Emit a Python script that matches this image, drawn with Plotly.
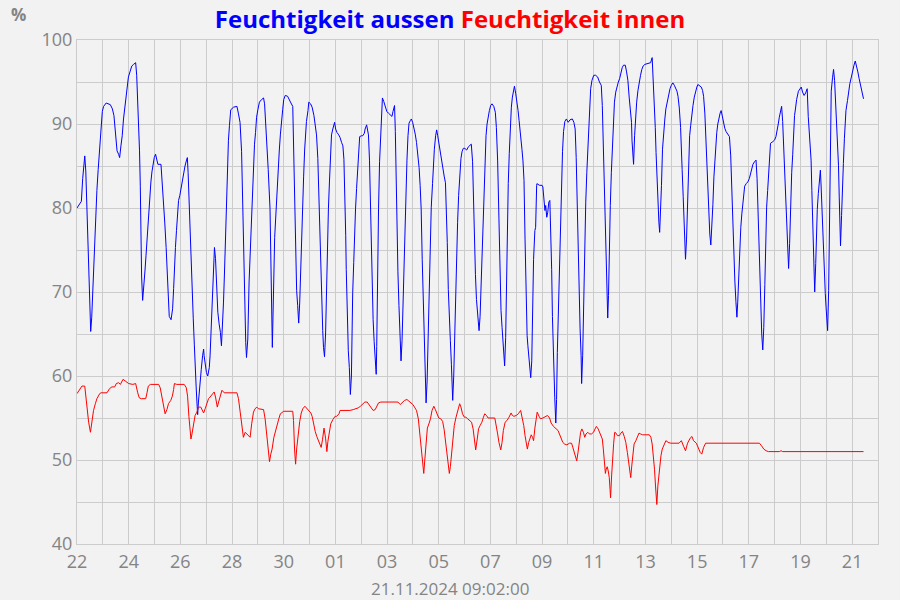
import pandas as pd
import plotly.graph_objects as go

START = "2024-10-22"
END = "2024-11-22"
STAMP = "21.11.2024 09:02:00"

# days since 22.10.2024 00:00 and relative humidity (%)
aussen_days = [
 0,0.17,0.22,0.26,0.30,0.34,0.37,0.39,0.43,0.46,0.50,0.53,0.57,0.61,0.64,0.68,0.73,0.77,0.82,0.86,0.90,0.93,0.98,1.03,1.13,1.29,1.37,1.43,1.47,1.51,1.55,1.61,1.65,1.70,1.75,1.80,1.87,1.93,1.99,2.06,2.12,2.19,2.27,2.31,2.35,2.38,2.42,2.45,2.47,2.50,2.54,2.58,2.63,2.67,2.71,2.74,2.78,2.82,2.86,2.90,2.94,2.99,3.04,3.09,3.13,3.25,3.30,3.35,3.40,3.45,3.49,3.53,3.57,3.64,3.70,3.74,3.77,3.81,3.85,3.89,3.93,3.98,4.03,4.07,4.12,4.18,4.23,4.27,4.30,4.34,4.38,4.42,4.46,4.50,4.54,4.57,4.61,4.65,4.67,4.70,4.75,4.81,4.86,4.90,4.92,4.96,5.01,5.06,5.12,5.15,5.19,5.23,5.28,5.32,5.36,5.41,5.45,5.50,5.55,5.59,5.63,5.67,5.71,5.75,5.79,5.82,5.86,5.90,5.95,6.06,6.19,6.25,6.31,6.37,6.41,6.44,6.47,6.51,6.53,6.56,6.61,6.66,6.70,6.75,6.79,6.83,6.87,6.91,6.95,7.00,7.06,7.14,7.22,7.26,7.29,7.35,7.40,7.47,7.54,7.56,
 7.65,7.71,7.74,7.78,7.83,7.87,7.91,7.96,8.00,8.06,8.15,8.23,8.28,8.35,8.37,8.40,8.44,8.46,8.50,8.54,8.58,8.62,8.65,8.69,8.73,8.77,8.81,8.85,8.88,8.94,8.97,9.04,9.10,9.17,9.22,9.27,9.32,9.36,9.40,9.44,9.47,9.51,9.54,9.58,9.62,9.65,9.69,9.73,9.77,9.81,9.85,9.90,9.94,9.97,10.01,10.06,10.13,10.18,10.24,10.29,10.33,10.37,10.40,10.42,10.45,10.47,10.50,10.54,10.58,10.62,10.64,10.67,10.71,10.74,10.78,10.82,10.86,10.90,10.94,11.01,11.06,11.12,11.15,11.21,11.24,11.28,11.32,11.36,11.40,11.42,11.46,11.50,11.54,11.58,11.60,11.63,11.67,11.71,11.76,11.79,11.82,11.87,11.94,11.99,12.05,12.13,12.19,12.23,12.29,12.32,12.35,12.38,12.42,12.46,12.50,12.54,12.58,12.62,12.65,12.69,12.73,12.77,12.81,12.85,12.90,12.94,12.99,13.04,13.09,13.14,13.19,13.24,13.28,13.32,13.36,13.40,13.44,13.46,13.49,13.51,13.55,13.59,13.63,13.67,13.71,13.76,13.79,13.83,13.88,13.92,13.96,14.00,14.05,14.10,14.15,14.21,14.26,14.29,14.33,14.37,14.41,14.45,14.49,14.53,14.54,14.58,14.62,14.65,14.69,14.73,14.77,14.82,14.86,14.90,14.95,15.01,15.08,15.15,15.26,
 15.31,15.34,15.38,15.42,15.46,15.50,15.52,15.56,15.60,15.64,15.68,15.72,15.76,15.79,15.83,15.87,15.91,15.96,16.01,16.06,16.13,16.19,16.23,16.28,16.33,16.37,16.41,16.45,16.49,16.53,16.55,16.59,16.62,16.66,16.69,16.73,16.77,16.81,16.85,16.90,16.93,16.98,17.02,17.07,17.11,17.14,17.18,17.22,17.26,17.30,17.34,17.38,17.42,17.45,17.49,17.53,17.56,17.60,17.63,17.67,17.72,17.75,17.79,17.80,17.90,18.00,18.03,18.07,18.11,18.14,18.18,18.22,18.26,18.30,18.33,18.37,18.40,18.43,18.46,18.49,18.53,18.56,18.59,18.63,18.67,18.71,18.75,18.79,18.83,18.88,18.94,19.01,19.08,19.17,19.23,19.28,19.32,19.36,19.39,19.43,19.47,19.51,19.53,19.57,19.61,19.65,19.69,19.73,19.77,19.81,19.84,19.88,19.93,20.00,20.07,20.15,20.22,20.29,20.33,20.37,20.41,20.45,20.49,20.51,20.54,20.57,20.60,20.64,20.68,20.72,20.76,20.80,20.85,20.90,20.95,21.00,21.05,21.10,21.15,21.22,21.27,21.32,21.37,21.42,21.46,21.48,21.51,21.54,21.58,21.62,21.66,21.71,21.75,21.81,21.86,21.91,21.98,22.08,22.20,22.26,22.30,22.34,22.38,22.41,22.45,22.49,22.52,22.55,22.58,22.62,22.66,22.71,22.75,22.79,22.84,22.89,22.95,
 23.00,23.06,23.12,23.17,23.22,23.26,23.31,23.36,23.40,23.42,23.46,23.50,23.53,23.55,23.59,23.63,23.67,23.71,23.75,23.79,23.84,23.89,23.94,23.99,24.03,24.09,24.16,24.21,24.25,24.30,24.35,24.39,24.43,24.45,24.49,24.53,24.57,24.61,24.65,24.69,24.72,24.76,24.80,24.84,24.89,24.93,24.97,25.02,25.07,25.12,25.19,25.25,25.30,25.34,25.38,25.42,25.46,25.50,25.54,25.57,25.61,25.65,25.69,25.73,25.77,25.81,25.84,25.90,25.96,26.02,26.06,26.11,26.16,26.22,26.28,26.32,26.36,26.40,26.44,26.47,26.50,26.54,26.58,26.62,26.65,26.69,26.73,26.77,26.80,26.84,26.93,27.00,27.05,27.11,27.14,27.18,27.22,27.27,27.31,27.35,27.39,27.43,27.47,27.50,27.54,27.58,27.62,27.66,27.70,27.74,27.77,27.81,27.85,27.92,27.97,28.03,28.08,28.14,28.20,28.26,28.30,28.35,28.41,28.44,28.48,28.52,28.55,28.59,28.62,28.65,28.69,28.73,28.77,28.80,28.84,28.88,28.92,28.96,28.99,29.01,29.05,29.09,29.12,29.15,29.19,29.24,29.28,29.32,29.37,29.41,29.45,29.47,29.50,29.52,29.55,29.59,29.62,29.66,29.70,29.73,29.76,29.82,29.86,29.91,29.97,30.02,30.07,30.12,30.17,30.22,30.27,30.34,30.44]
aussen_vals = [
 80.0,80.8,83.5,85.2,86.2,84.4,81.1,77.7,74.2,70.7,67.1,65.3,67.0,70.4,72.9,75.9,79.1,82.1,84.6,86.6,88.8,90.2,91.5,92.1,92.5,92.3,91.8,91.0,89.2,87.8,86.8,86.4,86.0,87.4,88.6,90.6,92.6,94.2,95.6,96.3,96.9,97.1,97.3,95.8,92.8,89.8,86.8,82.6,77.1,71.9,69.0,71.1,72.5,74.3,76.3,78.5,80.1,81.5,83.1,84.3,85.3,86.0,86.4,85.8,85.2,85.2,82.3,80.1,78.1,75.3,72.1,68.8,67.1,66.7,68.0,70.4,73.1,75.3,77.3,79.5,80.9,81.5,82.5,83.3,84.2,85.0,85.6,86.0,84.2,80.3,76.6,73.1,70.0,66.8,63.8,61.0,58.8,56.4,55.4,56.9,59.2,60.8,62.4,63.2,62.4,61.4,60.4,60.0,61.0,62.4,65.0,69.2,72.7,75.3,74.0,69.2,67.6,66.2,65.2,63.6,65.6,68.8,72.5,76.5,80.9,85.0,88.0,89.8,91.7,92.0,92.1,91.2,90.2,86.7,80.5,74.3,69.8,66.8,64.0,62.2,64.4,71.2,74.7,78.3,81.9,85.3,87.6,89.0,90.8,91.7,92.6,92.9,93.1,92.4,91.0,87.8,84.6,79.9,66.0,63.4,
 76.5,80.3,82.5,84.7,86.9,88.7,90.4,91.7,92.9,93.4,93.3,92.9,92.5,92.1,89.0,83.1,77.1,72.9,70.2,68.4,66.3,68.8,72.3,76.5,80.3,83.7,86.9,89.2,90.3,91.6,92.6,92.4,92.0,91.0,89.9,88.7,85.9,80.9,75.7,70.8,67.4,65.4,63.4,62.3,65.0,70.2,75.3,79.9,83.1,86.0,88.7,89.4,89.8,90.2,89.4,89.0,88.7,88.4,87.8,87.4,85.8,81.5,76.7,72.7,69.5,65.1,63.0,61.0,57.8,60.0,64.5,69.9,73.5,76.9,79.9,82.3,84.7,86.7,88.5,88.6,88.6,88.9,89.4,89.9,89.4,88.7,85.7,79.9,73.5,69.5,66.7,64.1,61.5,60.2,63.5,71.9,79.9,85.5,89.1,91.1,93.1,92.7,92.1,91.5,91.3,91.1,90.9,91.5,92.2,89.1,83.5,77.5,72.4,68.4,64.8,61.8,64.2,68.8,73.5,78.3,82.1,85.7,88.6,90.1,90.4,90.6,90.2,89.6,88.8,87.8,86.6,84.8,82.7,79.9,73.9,69.2,66.6,61.8,59.2,56.8,59.4,65.6,71.9,76.7,80.1,82.9,85.1,87.0,88.6,89.3,88.6,87.8,86.8,85.6,84.6,83.8,83.0,80.3,75.9,70.3,66.3,64.2,61.4,58.8,57.1,60.0,65.6,69.9,74.3,78.3,81.5,84.7,85.9,86.7,87.1,87.1,86.9,87.3,87.6,
 85.5,81.1,76.7,72.1,69.1,67.5,66.2,65.4,67.1,70.9,74.7,78.7,82.5,86.5,88.6,90.0,90.8,91.6,92.2,92.4,92.1,91.4,89.6,85.6,78.7,72.1,67.8,65.8,64.2,62.2,61.2,64.6,71.1,77.7,82.9,86.5,89.8,92.0,93.2,94.2,94.5,93.6,92.8,91.6,90.4,89.2,88.2,87.0,85.6,83.3,76.3,69.9,64.8,63.6,61.8,60.8,59.8,61.8,68.4,73.9,77.3,77.7,82.7,82.9,82.7,82.7,82.5,81.1,79.7,80.3,78.9,79.5,80.7,80.9,78.1,72.7,67.1,62.8,59.6,57.4,54.4,57.2,62.8,68.4,73.8,79.1,82.7,86.7,89.1,90.3,90.6,90.2,90.5,90.6,90.2,89.4,86.0,80.5,74.7,69.8,65.6,62.4,59.1,62.4,69.2,75.9,80.7,84.2,87.4,90.2,92.6,94.2,95.2,95.8,95.8,95.6,95.0,94.6,92.2,86.8,81.7,77.1,73.1,69.2,66.9,69.6,75.2,80.3,84.2,86.6,90.2,92.6,93.8,94.6,95.0,95.4,96.2,96.7,97.0,97.0,96.2,95.2,93.2,91.0,90.2,88.0,86.2,85.2,88.6,91.0,92.6,94.0,95.0,95.8,96.5,96.9,97.1,97.2,97.3,97.9,95.4,91.8,89.6,86.6,82.7,79.5,78.3,77.1,79.1,82.7,87.0,89.8,90.6,91.8,92.6,93.6,94.2,
 94.6,94.9,94.6,94.2,93.9,93.3,91.9,89.6,87.2,84.6,81.4,78.5,75.5,73.9,76.3,80.9,85.6,88.6,89.8,91.2,92.2,93.2,94.0,94.4,94.7,94.6,94.4,94.0,93.3,91.2,87.3,83.7,80.7,78.7,76.9,75.6,77.4,80.4,83.7,86.0,87.6,89.0,90.0,90.8,91.3,91.6,91.0,90.0,89.5,89.1,88.8,88.5,86.2,82.1,77.7,74.1,71.3,68.9,67.0,68.7,71.9,75.3,77.7,79.3,80.5,81.7,82.6,82.9,83.1,83.5,84.1,84.7,85.2,85.5,85.7,83.5,79.1,74.9,70.9,68.0,65.0,63.1,65.8,70.9,76.3,80.1,82.1,84.3,86.5,87.7,87.9,88.1,88.5,89.3,90.0,90.8,91.5,92.1,90.3,87.3,84.2,81.0,78.2,76.0,72.8,75.8,80.6,84.2,86.4,89.3,91.0,91.9,92.9,93.9,94.2,94.4,93.8,93.4,93.7,94.2,90.9,88.1,85.7,82.1,77.4,73.8,70.0,73.4,77.4,79.8,81.7,83.7,84.5,82.5,78.8,75.0,72.0,69.8,68.2,66.6,65.4,70.2,79.3,88.9,93.9,95.5,96.5,95.2,91.9,89.3,87.5,85.1,81.3,77.5,75.5,79.1,82.5,85.3,88.3,90.4,91.6,92.8,93.8,94.8,95.6,96.4,97.0,97.5,97.0,96.2,95.4,94.4,93.0]

innen_days = [
 0,0.10,0.19,0.30,0.34,0.39,0.45,0.52,0.58,0.64,0.71,0.77,0.88,0.93,1.16,1.26,1.35,1.46,1.52,1.61,1.68,1.78,1.87,2.00,2.16,2.27,2.35,2.41,2.49,2.66,2.71,2.76,2.84,3.16,3.22,3.29,3.35,3.41,3.48,3.54,3.63,3.69,3.74,3.77,3.86,4.15,4.23,4.28,4.33,4.38,4.41,4.45,4.51,4.57,4.64,4.70,4.79,4.85,4.90,4.96,5.03,5.09,5.15,5.22,5.31,5.36,5.43,5.48,5.54,5.61,5.70,6.19,6.25,6.31,6.38,6.44,6.51,6.57,6.64,6.70,6.76,6.83,6.89,6.96,7.02,7.22,7.28,7.35,7.41,7.45,7.50,7.55,7.62,
 7.68,7.74,7.81,7.87,7.94,8.00,8.35,8.38,8.42,8.46,8.50,8.56,8.62,8.68,8.74,8.82,8.90,8.97,9.05,9.10,9.15,9.22,9.28,9.35,9.41,9.45,9.50,9.56,9.62,9.67,9.71,9.77,9.82,9.90,9.99,10.05,10.14,10.18,10.56,10.69,10.82,10.88,10.97,11.05,11.14,11.23,11.29,11.37,11.46,11.54,11.59,11.67,11.76,12.42,12.51,12.59,12.68,12.77,12.85,12.94,13.00,13.08,13.14,13.21,13.26,13.31,13.36,13.40,13.42,13.46,13.51,13.56,13.63,13.68,13.74,13.81,13.87,13.94,14.00,14.08,14.15,14.21,14.26,14.31,14.36,14.41,14.45,14.50,14.55,14.60,14.67,14.73,14.81,14.86,14.92,14.99,15.05,15.12,15.18,
 15.27,15.33,15.38,15.43,15.49,15.54,15.60,15.67,15.73,15.78,15.85,15.91,16.17,16.23,16.28,16.33,16.40,16.45,16.50,16.57,16.64,16.72,16.80,16.85,16.91,17.00,17.08,17.17,17.22,17.29,17.34,17.39,17.43,17.48,17.53,17.58,17.63,17.67,17.72,17.77,17.81,17.88,17.94,18.03,18.13,18.21,18.29,18.35,18.44,18.54,18.62,18.67,18.74,18.80,18.87,18.96,19.06,19.14,19.19,19.24,19.29,19.34,19.39,19.44,19.49,19.54,19.60,19.65,19.70,19.77,19.83,19.91,19.99,20.05,20.10,20.17,20.23,20.28,20.33,20.37,20.41,20.45,20.48,20.52,20.56,20.60,20.63,20.65,20.69,20.73,20.77,20.81,20.86,20.92,20.99,21.05,21.11,21.18,21.24,21.30,21.35,21.39,21.43,21.47,21.51,21.56,21.63,21.68,21.75,21.81,21.89,22.15,22.21,22.26,22.31,22.35,22.39,22.41,22.44,22.48,22.52,22.55,22.60,22.65,22.72,22.79,22.88,22.98,
 23.30,23.39,23.48,23.55,23.63,23.73,23.80,23.86,23.97,24.03,24.12,24.18,24.25,24.33,26.41,26.49,26.58,26.67,26.76,27.18,27.25,27.31,30.44]
innen_vals = [
 57.9,58.4,58.8,58.8,57.4,55.9,54.5,53.3,54.7,55.9,56.7,57.3,57.9,58.0,58.0,58.5,58.7,58.7,59.1,59.2,59.0,59.6,59.4,59.1,59.0,59.1,58.0,57.4,57.3,57.3,58.0,58.8,59.0,59.0,58.6,57.6,56.5,55.5,56.0,56.7,57.1,57.6,58.4,59.1,59.0,59.0,58.6,57.6,55.2,53.3,52.5,53.1,54.5,55.3,55.7,56.3,56.3,55.9,55.6,56.1,56.9,57.3,57.5,57.8,58.1,57.5,56.3,56.9,57.7,58.3,58.0,58.0,57.3,55.9,54.5,52.7,53.3,53.1,52.9,52.7,54.3,55.7,56.1,56.3,56.1,56.0,54.9,52.9,51.1,49.8,50.7,51.3,52.7,
 53.5,54.1,54.9,55.5,55.7,55.8,55.8,54.7,51.3,49.5,51.3,53.2,54.6,55.6,56.1,56.4,56.1,55.8,55.6,55.2,54.4,53.4,52.8,52.2,51.8,51.5,52.4,53.8,52.6,51.0,52.2,53.6,54.3,54.8,55.2,55.2,55.5,55.9,55.9,56.0,56.1,56.2,56.4,56.7,56.9,56.9,56.6,56.2,55.9,56.0,56.4,56.8,56.9,56.9,56.6,56.8,57.1,57.2,57.0,56.8,56.6,56.2,55.9,54.9,53.5,52.0,50.6,49.6,48.4,50.0,52.2,53.8,54.4,54.9,55.9,56.4,56.0,55.4,55.0,54.9,54.6,53.6,52.2,50.8,49.6,48.4,49.2,51.2,52.9,54.1,55.1,55.9,56.7,56.3,55.5,55.1,55.1,54.9,54.7,
 54.5,53.7,52.5,51.2,52.5,53.7,54.1,54.5,55.1,55.5,55.3,55.0,55.0,54.1,53.1,52.1,51.2,52.1,53.5,54.5,54.7,55.1,55.6,55.3,55.2,55.3,55.5,55.9,55.3,54.1,52.9,51.9,51.3,52.1,52.7,53.0,52.7,52.3,53.8,55.2,55.7,55.2,54.9,55.0,55.2,55.3,55.0,54.4,54.0,53.7,53.5,53.1,52.5,52.1,51.9,51.8,52.0,52.0,51.5,50.9,50.3,49.9,50.9,52.3,53.3,53.7,53.3,52.7,53.1,53.3,53.1,53.1,53.3,53.7,54.0,53.7,53.3,52.9,52.5,51.3,49.7,48.4,48.9,49.2,48.7,47.9,46.5,45.5,48.1,50.6,52.0,53.3,53.2,52.9,52.9,53.2,53.4,52.8,52.1,50.9,49.7,48.7,47.9,49.3,50.5,51.9,52.3,52.7,53.2,53.1,53.0,53.0,52.7,51.9,50.5,48.9,46.9,45.7,44.7,46.9,48.4,49.7,50.5,51.3,51.9,52.3,52.1,52.0,
 52.0,52.3,51.6,51.1,52.0,52.6,52.8,52.3,52.0,51.5,50.9,50.7,51.5,52.0,52.0,51.7,51.3,51.1,51.0,51.0,51.1,51.0,51.0]

base = pd.Timestamp(START)
x_aussen = base + pd.to_timedelta(aussen_days, unit="D")
x_innen = base + pd.to_timedelta(innen_days, unit="D")

GRID = "#cccccc"
TXT = "#848484"
FONT = "Open Sans, Noto Sans, DejaVu Sans, sans-serif"

fig = go.Figure()
fig.add_trace(go.Scatter(x=x_aussen, y=aussen_vals, mode="lines",
                         line=dict(color="#0000ff", width=1), name="Feuchtigkeit aussen"))
fig.add_trace(go.Scatter(x=x_innen, y=innen_vals, mode="lines",
                         line=dict(color="#ff0000", width=1), name="Feuchtigkeit innen"))

fig.update_layout(
    width=900, height=600,
    margin=dict(l=77, r=22, t=40, b=56),
    paper_bgcolor="#f2f2f2", plot_bgcolor="#f2f2f2",
    showlegend=False,
    font=dict(family=FONT, color=TXT),
    title=dict(
        text="<b><span style='color:#0000ff'>Feuchtigkeit aussen</span> "
             "<span style='color:#ff0000'>Feuchtigkeit innen</span></b>",
        x=0.5, xanchor="center", y=0.968, yanchor="middle", yref="container",
        font=dict(family=FONT, size=24),
    ),
    xaxis=dict(
        type="date", range=[START, END],
        tick0=START, dtick=2 * 86400000, tickformat="%d",
        showgrid=True, gridcolor=GRID, gridwidth=1,
        minor=dict(dtick=86400000, showgrid=True, gridcolor=GRID, gridwidth=1),
        showline=True, linecolor=GRID, mirror=True,
        zeroline=False, ticks="",
        ticklabelstandoff=1,
        tickfont=dict(size=18, color=TXT, family=FONT),
    ),
    yaxis=dict(
        range=[40, 100], dtick=10, tick0=40,
        showgrid=True, gridcolor=GRID, gridwidth=1,
        minor=dict(dtick=5, showgrid=True, gridcolor=GRID, gridwidth=1),
        showline=True, linecolor=GRID, mirror=True,
        zeroline=False, ticks="",
        tickfont=dict(size=18, color=TXT, family=FONT),
    ),
    annotations=[
        dict(text="<b>%</b>", xref="paper", yref="paper",
             x=-0.0736, y=1.05, xanchor="center", yanchor="middle",
             showarrow=False, font=dict(size=17, color=TXT, family=FONT)),
        dict(text=STAMP, xref="paper", yref="paper",
             x=(450 - 77) / 801, y=-(588 - 544) / 504, xanchor="center", yanchor="middle",
             showarrow=False, font=dict(size=17, color=TXT, family=FONT)),
    ],
)

fig.write_html("out.html")
